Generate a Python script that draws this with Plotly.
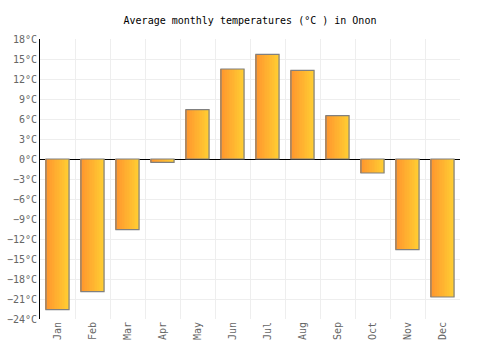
import plotly.graph_objects as go

months = ["Jan", "Feb", "Mar", "Apr", "May", "Jun", "Jul", "Aug", "Sep", "Oct", "Nov", "Dec"]
temps = [-22.6, -19.9, -10.6, -0.5, 7.4, 13.5, 15.7, 13.3, 6.5, -2.1, -13.6, -20.7]
y_ticks = list(range(-24, 19, 3))
y_labels = [("−%d°C" % -v) if v < 0 else ("%d°C" % v) for v in y_ticks]

fig = go.Figure()

bar_w = 0.66
n_slices = 14
c0 = (255, 150, 46)
c1 = (255, 204, 50)
sw = bar_w / n_slices
for k in range(n_slices):
    t = k / (n_slices - 1)
    col = "rgb(%d,%d,%d)" % tuple(round(a + (b - a) * t) for a, b in zip(c0, c1))
    fig.add_trace(go.Bar(
        x=months, y=temps, width=sw * 1.15, offset=-bar_w / 2 + k * sw,
        marker=dict(color=col, line=dict(width=0)),
        hoverinfo="skip", showlegend=False))

fig.add_trace(go.Bar(
    x=months, y=temps, width=bar_w, offset=-bar_w / 2,
    marker=dict(color="rgba(0,0,0,0)", line=dict(color="#808080", width=1.2)),
    showlegend=False))

fig.update_layout(
    width=500, height=350,
    barmode="overlay",
    plot_bgcolor="white", paper_bgcolor="white",
    margin=dict(l=40, r=40, t=39, b=31),
    title=dict(text="Average monthly temperatures (°C ) in Onon", x=0.5, xanchor="center",
               y=1 - 20 / 350, yanchor="middle",
               font=dict(family="DejaVu Sans Mono", size=10, color="#000")),
    font=dict(family="DejaVu Sans Mono", size=10, color="#666"),
    xaxis=dict(type="category", tickson="boundaries", showgrid=True, gridcolor="#eeeeee",
               gridwidth=1, tickangle=-90, ticks="", showline=False, zeroline=False,
               automargin=False, range=[-0.5, 11.5], tickfont=dict(color="#666", size=10)),
    yaxis=dict(range=[-24, 18], tickmode="array", tickvals=y_ticks, ticktext=y_labels,
               showgrid=True, automargin=False,
               gridcolor="#eeeeee", gridwidth=1, zeroline=True, zerolinecolor="#000",
               zerolinewidth=1, showline=True, linecolor="#000", linewidth=1, ticks="",
               tickfont=dict(color="#666", size=10)),
)

fig.write_html("out.html")
